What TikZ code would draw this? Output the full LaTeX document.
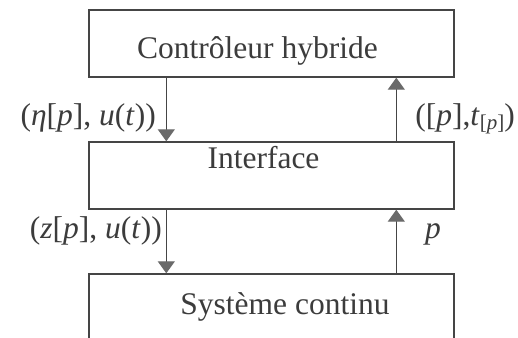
\documentclass[tikz,border=0pt]{standalone}
\usepackage{fontspec}
\setmainfont{Liberation Serif}
\usetikzlibrary{arrows.meta,calc}
\definecolor{ink}{HTML}{3C3C3C}
\definecolor{linec}{HTML}{454545}
\definecolor{headc}{HTML}{6A6A6A}
\begin{document}
\begin{tikzpicture}[x=1pt,y=-1pt,
  blockbox/.style={draw=linec,line width=1.4pt,rectangle,minimum width=365pt,inner sep=0pt},
  blocktext/.style={text=ink,anchor=base,inner sep=0pt,font=\fontsize{31.5}{36}\selectfont},
  sig/.style={text=ink,inner sep=0pt,font=\fontsize{31.5}{36}\selectfont},
  flow/.style={draw=linec,line width=1.2pt,-{Triangle[width=17pt,length=12pt,color=headc,fill=headc]}}]
\useasboundingbox (0,0) rectangle (518,337);
\clip (0,0) rectangle (518,337);
\fill[white] (0,0) rectangle (518,337);
% boxes
\node[blockbox,minimum height=67pt] (ctrl) at (271.5,43.5) {};
\node[blockbox,minimum height=67pt] (iface) at (271.5,175.5) {};
\node[blockbox,minimum height=70pt] (sys) at (271.5,309) {};
% texts
\node[blocktext] (tctrl) at (257.5,58) {Contrôleur hybride};
\node[blocktext] (tiface) at (263.5,168) {Interface};
\node[blocktext] (tsys) at (285,314) {Système continu};
% connector end points
\coordinate (a1) at ($(ctrl.south west)+(78,0)$);
\coordinate (a2) at ($(iface.north west)+(78,0)$);
\coordinate (b1) at ($(ctrl.south west)+(308,0)$);
\coordinate (b2) at ($(iface.north west)+(308,0)$);
\coordinate (c1) at ($(iface.south west)+(78,0)$);
\coordinate (c2) at ($(sys.north west)+(78,0)$);
\coordinate (d1) at ($(iface.south west)+(308,0)$);
\coordinate (d2) at ($(sys.north west)+(308,0)$);
\draw[flow] (a1) -- (a2);
\draw[flow] (b2) -- (b1);
\draw[flow] (c1) -- (c2);
\draw[flow] (d2) -- (d1);
% labels
\node[sig,anchor=base east] (la) at (156,125) {(\textit{η}[\textit{p}], \textit{u}(\textit{t}))};
\node[sig,anchor=base east] (lb) at (515,125) {([\textit{p}],\textit{t}\raisebox{-4pt}{\fontsize{21}{24}\selectfont[\textit{p}]})};
\node[sig,anchor=base east] (lc) at (162,238) {(\textit{z}[\textit{p}], \textit{u}(\textit{t}))};
\node[sig,anchor=base west] (ld) at (425,238) {\textit{p}};
\end{tikzpicture}
\end{document}
